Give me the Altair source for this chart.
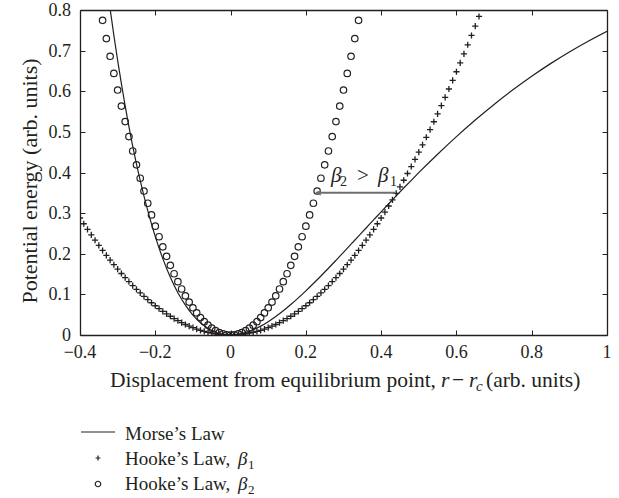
import altair as alt
import pandas as pd

# ---------------- data ----------------
morse_x = [-0.34, -0.32, -0.30, -0.28, -0.26, -0.24, -0.22, -0.20, -0.18, -0.16,
           -0.14, -0.12, -0.10, -0.08, -0.06, -0.04, -0.02, 0.00, 0.02, 0.04,
           0.06, 0.08, 0.10, 0.12, 0.14, 0.16, 0.18, 0.20, 0.22, 0.24,
           0.26, 0.28, 0.30, 0.32, 0.34, 0.36, 0.38, 0.40, 0.42, 0.44,
           0.46, 0.48, 0.50, 0.55, 0.60, 0.65, 0.70, 0.75, 0.80, 0.85,
           0.90, 0.95, 1.00]
morse_y = [0.948, 0.803, 0.676, 0.564, 0.465, 0.380, 0.306, 0.242, 0.188, 0.142,
           0.104, 0.0736, 0.0490, 0.0301, 0.0163, 0.0069, 0.0017, 0.0, 0.0015, 0.0059,
           0.0128, 0.0219, 0.0329, 0.0455, 0.0596, 0.0750, 0.0914, 0.1087, 0.1267, 0.1453,
           0.1644, 0.1839, 0.2036, 0.2235, 0.2434, 0.2634, 0.2833, 0.3033, 0.3230, 0.3425,
           0.3618, 0.3808, 0.3996, 0.4450, 0.4883, 0.5292, 0.5676, 0.6035, 0.6370, 0.6680,
           0.6967, 0.7232, 0.7477]

b1_x = [-0.40, -0.39, -0.38, -0.37, -0.36, -0.35, -0.34, -0.33, -0.32, -0.31,
        -0.30, -0.29, -0.28, -0.27, -0.26, -0.25, -0.24, -0.23, -0.22, -0.21,
        -0.20, -0.19, -0.18, -0.17, -0.16, -0.15, -0.14, -0.13, -0.12, -0.11,
        -0.10, -0.09, -0.08, -0.07, -0.06, -0.05, -0.04, -0.03, -0.02, -0.01,
        0.00, 0.01, 0.02, 0.03, 0.04, 0.05, 0.06, 0.07, 0.08, 0.09,
        0.10, 0.11, 0.12, 0.13, 0.14, 0.15, 0.16, 0.17, 0.18, 0.19,
        0.20, 0.21, 0.22, 0.23, 0.24, 0.25, 0.26, 0.27, 0.28, 0.29,
        0.30, 0.31, 0.32, 0.33, 0.34, 0.35, 0.36, 0.37, 0.38, 0.39,
        0.40, 0.41, 0.42, 0.43, 0.44, 0.45, 0.46, 0.47, 0.48, 0.49,
        0.50, 0.51, 0.52, 0.53, 0.54, 0.55, 0.56, 0.57, 0.58, 0.59,
        0.60, 0.61, 0.62, 0.63, 0.64, 0.65, 0.66]
b1_y = [0.2880, 0.2738, 0.2599, 0.2464, 0.2333, 0.2205, 0.2081, 0.1960, 0.1843, 0.1730,
        0.1620, 0.1514, 0.1411, 0.1312, 0.1217, 0.1125, 0.1037, 0.0952, 0.0871, 0.0794,
        0.0720, 0.0650, 0.0583, 0.0520, 0.0461, 0.0405, 0.0353, 0.0304, 0.0259, 0.0218,
        0.0180, 0.0146, 0.0115, 0.0088, 0.0065, 0.0045, 0.0029, 0.0016, 0.0007, 0.0002,
        0.0000, 0.0002, 0.0007, 0.0016, 0.0029, 0.0045, 0.0065, 0.0088, 0.0115, 0.0146,
        0.0180, 0.0218, 0.0259, 0.0304, 0.0353, 0.0405, 0.0461, 0.0520, 0.0583, 0.0650,
        0.0720, 0.0794, 0.0871, 0.0952, 0.1037, 0.1125, 0.1217, 0.1312, 0.1411, 0.1514,
        0.1620, 0.1730, 0.1843, 0.1960, 0.2081, 0.2205, 0.2333, 0.2464, 0.2599, 0.2738,
        0.2880, 0.3026, 0.3175, 0.3328, 0.3485, 0.3645, 0.3809, 0.3976, 0.4147, 0.4322,
        0.4500, 0.4682, 0.4867, 0.5056, 0.5249, 0.5445, 0.5645, 0.5848, 0.6055, 0.6266,
        0.6480, 0.6698, 0.6919, 0.7144, 0.7373, 0.7605, 0.7841]

b2_x = [-0.34, -0.33, -0.32, -0.31, -0.30, -0.29, -0.28, -0.27, -0.26, -0.25,
        -0.24, -0.23, -0.22, -0.21, -0.20, -0.19, -0.18, -0.17, -0.16, -0.15,
        -0.14, -0.13, -0.12, -0.11, -0.10, -0.09, -0.08, -0.07, -0.06, -0.05,
        -0.04, -0.03, -0.02, -0.01, 0.00, 0.01, 0.02, 0.03, 0.04, 0.05,
        0.06, 0.07, 0.08, 0.09, 0.10, 0.11, 0.12, 0.13, 0.14, 0.15,
        0.16, 0.17, 0.18, 0.19, 0.20, 0.21, 0.22, 0.23, 0.24, 0.25,
        0.26, 0.27, 0.28, 0.29, 0.30, 0.31, 0.32, 0.33, 0.34]
b2_y = [0.7745, 0.7296, 0.6861, 0.6439, 0.6030, 0.5635, 0.5253, 0.4884, 0.4529, 0.4188,
        0.3859, 0.3544, 0.3243, 0.2955, 0.2680, 0.2419, 0.2171, 0.1936, 0.1715, 0.1508,
        0.1313, 0.1132, 0.0965, 0.0811, 0.0670, 0.0543, 0.0429, 0.0328, 0.0241, 0.0168,
        0.0107, 0.0060, 0.0027, 0.0007, 0.0000, 0.0007, 0.0027, 0.0060, 0.0107, 0.0168,
        0.0241, 0.0328, 0.0429, 0.0543, 0.0670, 0.0811, 0.0965, 0.1132, 0.1313, 0.1508,
        0.1715, 0.1936, 0.2171, 0.2419, 0.2680, 0.2955, 0.3243, 0.3544, 0.3859, 0.4188,
        0.4529, 0.4884, 0.5253, 0.5635, 0.6030, 0.6439, 0.6861, 0.7296, 0.7745]

x_ticks = [-0.4, -0.2, 0, 0.2, 0.4, 0.6, 0.8, 1.0]
x_tick_labels = ["\u22120.4", "\u22120.2", "0", "0.2", "0.4", "0.6", "0.8", "1"]
y_ticks = [0, 0.1, 0.2, 0.3, 0.4, 0.5, 0.6, 0.7, 0.8]
y_tick_labels = ["0", "0.1", "0.2", "0.3", "0.4", "0.5", "0.6", "0.7", "0.8"]

arrow_x = [0.227, 0.437]
arrow_y = [0.35, 0.35]

legend_labels = ["Morse\u2019s Law", "Hooke\u2019s Law,", "Hooke\u2019s Law,"]

# ---------------- styling ----------------
FONT = "Liberation Serif"
INK = "#231f20"
W, H = 527, 325
PLUS = "M-1,0L1,0M0,-1L0,1"

morse_df = pd.DataFrame({"x": morse_x, "y": morse_y})
b1_df = pd.DataFrame({"x": b1_x, "y": b1_y})
b2_df = pd.DataFrame({"x": b2_x, "y": b2_y})
arrow_df = pd.DataFrame({"x": [arrow_x[0]], "x2": [arrow_x[1]], "y": [arrow_y[0]]})
xt_df = pd.DataFrame({"v": x_ticks, "t": x_tick_labels})
yt_df = pd.DataFrame({"v": y_ticks, "t": y_tick_labels})
one = pd.DataFrame({"k": [0]})

xscale = alt.Scale(domain=[-0.4, 1.0], nice=False, zero=False)
yscale = alt.Scale(domain=[0, 0.8], nice=False, zero=False)
inward = alt.ExprRef(expr="-5")

axis_style = dict(grid=False, tickSize=inward, tickColor=INK, tickWidth=1,
                  domainColor=INK, domainWidth=1.3, labels=False, title=None)

morse = alt.Chart(morse_df).mark_line(color=INK, strokeWidth=1.2, clip=True,
                                      interpolate="monotone").encode(
    x=alt.X("x:Q", scale=xscale,
            axis=alt.Axis(values=x_ticks, orient="bottom", **axis_style)),
    y=alt.Y("y:Q", scale=yscale,
            axis=alt.Axis(values=y_ticks, orient="left", **axis_style)),
)

b1 = alt.Chart(b1_df).mark_point(shape=PLUS, size=38, color=INK, strokeWidth=1.3,
                                 filled=False, opacity=1, clip=True).encode(
    x=alt.X("x:Q", scale=xscale,
            axis=alt.Axis(values=x_ticks, orient="top", **axis_style)),
    y=alt.Y("y:Q", scale=yscale,
            axis=alt.Axis(values=y_ticks, orient="right", **axis_style)),
)

b2 = alt.Chart(b2_df).mark_point(shape="circle", size=42, color=INK, strokeWidth=1.2,
                                 filled=False, opacity=1, clip=True).encode(
    x=alt.X("x:Q", scale=xscale, axis=None),
    y=alt.Y("y:Q", scale=yscale, axis=None),
)

# tick labels, placed through the scales
xlab = alt.Chart(xt_df).mark_text(font=FONT, fontSize=18, color=INK, align="center",
                                  baseline="alphabetic").encode(
    x=alt.X("v:Q", scale=xscale, axis=None),
    y=alt.value(H + 23),
    text="t:N",
)
ylab = alt.Chart(yt_df).mark_text(font=FONT, fontSize=18, color=INK, align="right",
                                  baseline="alphabetic", dy=6).encode(
    x=alt.value(-9),
    y=alt.Y("v:Q", scale=yscale, axis=None),
    text="t:N",
)

arrow_line = alt.Chart(arrow_df).mark_rule(color="#6d6e71", strokeWidth=2).encode(
    x=alt.X("x:Q", scale=xscale, axis=None),
    x2="x2:Q",
    y=alt.Y("y:Q", scale=yscale, axis=None),
)
arrow_head = alt.Chart(arrow_df).mark_point(shape="M0.7,-0.8L-0.9,0L0.7,0.8", size=30,
                                            color="#6d6e71", strokeWidth=1.3,
                                            filled=False, opacity=1).encode(
    x=alt.X("x:Q", scale=xscale, axis=None),
    y=alt.Y("y:Q", scale=yscale, axis=None),
    xOffset=alt.value(3),
)


def data_text(text, xd, yd, size, italic=False):
    d = pd.DataFrame({"x": [xd], "y": [yd]})
    return alt.Chart(d).mark_text(text=text, font=FONT, fontSize=size,
                                  fontStyle="italic" if italic else "normal",
                                  align="left", baseline="alphabetic", color=INK).encode(
        x=alt.X("x:Q", scale=xscale, axis=None),
        y=alt.Y("y:Q", scale=yscale, axis=None),
    )


def px_text(text, x, y, size, italic=False, align="left", angle=0):
    kw = dict(text=text, font=FONT, fontSize=size,
              fontStyle="italic" if italic else "normal",
              align=align, baseline="alphabetic", color=INK)
    if angle:
        kw["angle"] = angle
    return alt.Chart(one).mark_text(**kw).encode(x=alt.value(x), y=alt.value(y))


annot = [
    data_text("\u03b2", 0.2668, 0.3766, 21, italic=True),
    data_text("2", 0.2907, 0.3668, 14),
    data_text(">", 0.3359, 0.3766, 21),
    data_text("\u03b2", 0.3916, 0.3766, 21, italic=True),
    data_text("1", 0.4235, 0.3668, 14),
]

# x-axis title (pixel positions relative to the plot area)
xtitle = [
    px_text("Displacement from equilibrium point,", 356, 377, 21.5, align="right"),
    px_text("r", 361, 377, 21.5, italic=True),
    px_text("\u2212", 378, 377, 21.5, align="center"),
    px_text("r", 389, 377, 21.5, italic=True),
    px_text("c", 396, 381, 15, italic=True),
    px_text("(arb. units)", 406, 377, 21.5),
]
ytitle = [px_text("Potential energy (arb. units)", -43, 171, 22, align="center", angle=270)]

# legend
leg_rule = alt.Chart(one).mark_rule(color=INK, strokeWidth=1.2).encode(
    x=alt.value(1), x2=alt.value(35), y=alt.value(422))
leg_plus = alt.Chart(one).mark_point(shape=PLUS, size=24, color=INK, strokeWidth=1.2,
                                     filled=False, opacity=1).encode(x=alt.value(18), y=alt.value(448))
leg_circ = alt.Chart(one).mark_point(shape="circle", size=30, color=INK, strokeWidth=1.2,
                                     filled=False, opacity=1).encode(x=alt.value(18), y=alt.value(474))
legend = [
    leg_rule, leg_plus, leg_circ,
    px_text(legend_labels[0], 45, 430, 19),
    px_text(legend_labels[1], 45, 455, 19),
    px_text("\u03b2", 158, 455, 19, italic=True),
    px_text("1", 168, 459, 13),
    px_text(legend_labels[2], 45, 480, 19),
    px_text("\u03b2", 158, 480, 19, italic=True),
    px_text("2", 168, 484, 13),
]

chart = alt.layer(
    morse, b1, b2, xlab, ylab, arrow_line, arrow_head, *annot, *xtitle, *ytitle, *legend
).resolve_axis(x="independent", y="independent").properties(
    width=W, height=H,
    autosize=alt.AutoSizeParams(type="none"),
    padding={"left": 80, "top": 10, "right": 12, "bottom": 163},
    background="white",
).configure_view(stroke=None)

chart.save("out.html", embed_options={"renderer": "svg", "actions": False})
